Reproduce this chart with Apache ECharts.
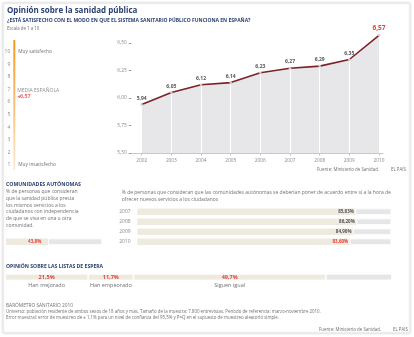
<!DOCTYPE html>
<html><head><meta charset="utf-8">
<script src="https://cdn.jsdelivr.net/npm/echarts@6/dist/echarts.min.js"></script>
<style>html,body{margin:0;padding:0;background:#fff}#c{width:414px;height:337px}</style>
</head><body><div id="c"></div>
<script>
// ---- data ----
const years = [2002, 2003, 2004, 2005, 2006, 2007, 2008, 2009, 2010];
const satisfaction = [5.94, 6.05, 6.12, 6.14, 6.23, 6.27, 6.29, 6.35, 6.57];
const yTicks = [5.5, 5.75, 6.0, 6.25, 6.5];
const spainMean = 6.57;
const sameServicesPct = [43.8];
const agreeYears = ['2007', '2008', '2009', '2010'];
const agreePct = [85.83, 86.20, 84.90, 83.60];
const waitLabels = ['Han mejorado', 'Han empeorado', 'Siguen igual'];
const waitPct = [21.5, 11.7, 49.7];

const F = "'Open Sans', 'DejaVu Sans', sans-serif";
const NAVY = '#2c4170', RED = '#e8413b', GRAYT = '#707070';
const BEIGE = '#efeadf', BGRAY = '#e6e6e8';
const comma = (v, d) => v.toFixed(d).replace('.', ',');

const linePts = years.map((y, i) => [y, satisfaction[i]]);
const waitRest = +(100 - waitPct.reduce((a, b) => a + b, 0)).toFixed(1);

function txt(x, y, text, size, color, weight, extra) {
  return Object.assign({ type: 'text', z: 10, style: Object.assign({
    x: x, y: y, text: text, fill: color, font: (weight || 'normal') + ' ' + size + 'px ' + F,
    align: 'left', verticalAlign: 'middle' }, extra || {}) });
}

const chart = echarts.init(document.getElementById('c'), null, { renderer: 'canvas' });
chart.setOption({
  animation: false,
  backgroundColor: '#fff',
  grid: [
    { left: 141.7, right: 35, top: 32, bottom: 184 },
    { left: 131, right: 31, top: 32, bottom: 184 },
    { left: 13.3, width: 2, top: 51.5, height: 113.5 },
    { left: 6, width: 96.3, top: 238.4, height: 6.6 },
    { left: 137.3, width: 254, top: 206.7, height: 40 },
    { left: 5, width: 387, top: 273.8, height: 6.6 }
  ],
  xAxis: [
    { gridIndex: 0, type: 'value', min: 2002, max: 2010, interval: 1, z: 1.5,
      axisLine: { show: false },
      axisTick: { show: true, length: 2.5, lineStyle: { color: '#c4c4c4' } },
      axisLabel: { color: '#8a8a8a', fontSize: 4.8, fontFamily: F, margin: 5, formatter: v => String(v) },
      splitLine: { show: true, lineStyle: { color: '#ffffff', width: 1 } } },
    { gridIndex: 1, type: 'value', min: 0, max: 1, axisLine: { show: true, lineStyle: { color: '#c8c8c8', width: 1 } },
      axisTick: { show: false }, axisLabel: { show: false }, splitLine: { show: false } },
    { gridIndex: 2, type: 'value', min: 0, max: 1, show: false },
    { gridIndex: 3, type: 'value', min: 0, max: 100, show: false },
    { gridIndex: 4, type: 'value', min: 0, max: 100, show: false },
    { gridIndex: 5, type: 'value', min: 0, max: 100, show: false }
  ],
  yAxis: [
    { gridIndex: 0, type: 'value', min: 5.5, max: 6.6, interval: 0.25, offset: 10.5,
      axisLine: { show: false },
      axisTick: { show: true, length: 2.5, customValues: yTicks, lineStyle: { color: '#9a9a9a' } },
      axisLabel: { customValues: yTicks, color: '#8a8a8a', fontSize: 4.8, fontFamily: F, margin: 4.5,
        formatter: v => comma(v, 2) },
      splitLine: { show: false } },
    { gridIndex: 1, type: 'value', show: false },
    { gridIndex: 2, type: 'value', min: 1, max: 10, interval: 1, position: 'left',
      axisLine: { show: false }, axisTick: { show: false }, splitLine: { show: false },
      axisLabel: { color: '#8a8a8a', fontSize: 5, fontFamily: F, margin: 3 } },
    { gridIndex: 2, type: 'value', min: 1, max: 10, interval: 1, position: 'right',
      axisLine: { show: false }, axisTick: { show: false }, splitLine: { show: false },
      axisLabel: { color: GRAYT, fontSize: 4.8, fontFamily: F, margin: 3,
        formatter: v => v === 10 ? 'Muy satisfecho' : (v === 1 ? 'Muy insatisfecho' : '') } },
    { gridIndex: 3, type: 'category', data: [''], show: false },
    { gridIndex: 4, type: 'category', data: agreeYears, inverse: true,
      axisLine: { show: false }, axisTick: { show: false },
      axisLabel: { color: '#8a8a8a', fontSize: 5, fontFamily: F, margin: 6.6 } },
    { gridIndex: 5, type: 'category', data: [''], show: false }
  ],
  graphic: [
    { type: 'rect', z: -10, shape: { x: 3, y: 3, width: 407, height: 330 },
      style: { fill: '#fff', stroke: '#e2e2e2', lineWidth: 1, shadowBlur: 3, shadowColor: 'rgba(0,0,0,0.10)' } },
    { type: 'rect', z: 5, shape: { x: 13.3, y: 40, width: 2, height: 130 },
      style: { fill: new echarts.graphic.LinearGradient(0, 0, 0, 1, [
        { offset: 0, color: '#f39a1e' }, { offset: 0.4, color: '#f7b866' }, { offset: 1, color: '#fdecd6' }]) } },
    txt(7, 11, 'Opinión sobre la sanidad pública', 8, NAVY, 'bold'),
    txt(7, 21, '¿ESTÁ SATISFECHO CON EL MODO EN QUE EL SISTEMA SANITARIO PÚBLICO FUNCIONA EN ESPAÑA?', 5, NAVY, 'bold'),
    txt(7, 28.5, 'Escala de 1 a 10', 4.4, GRAYT),
    txt(317, 170, 'Fuente: Ministerio de Sanidad.', 4.4, GRAYT),
    txt(391, 170, 'EL PAÍS', 4.4, GRAYT),
    txt(6, 185, 'COMUNIDADES AUTÓNOMAS', 5.2, NAVY, 'bold'),
    txt(6, 192, '% de personas que consideran\nque la sanidad pública presta\nlos mismos servicios a los\nciudadanos con independencia\nde que se viva en una u otra\ncomunidad.', 5, GRAYT, 'normal',
      { verticalAlign: 'top', y: 188.6, lineHeight: 6.7 }),
    txt(121.7, 192.7, '% de personas que consideran que las comunidades autónomas se deberían poner de acuerdo entre sí a la hora de\nofrecer nuevos servicios a los ciudadanos', 5, GRAYT, 'normal',
      { verticalAlign: 'top', y: 189.4, lineHeight: 6.6 }),
    txt(6, 266.7, 'OPINIÓN SOBRE LAS LISTAS DE ESPERA', 5.1, NAVY, 'bold'),
    txt(6, 306, 'BARÓMETRO SANITARIO 2010', 4.8, GRAYT),
    txt(6, 312, 'Universo: población residente de ambos sexos de 18 años y más. Tamaño de la muestra: 7.800 entrevistas. Período de referencia: marzo-noviembre 2010.', 4.4, GRAYT),
    txt(6, 318, 'Error muestral: error de muestreo de ± 1,1% para un nivel de confianza del 95,5% y P=Q en el supuesto de muestreo aleatorio simple.', 4.4, GRAYT),
    txt(319, 329.3, 'Fuente: Ministerio de Sanidad.', 4.4, GRAYT),
    txt(393, 329.3, 'EL PAÍS', 4.4, GRAYT)
  ],
  series: [
    { type: 'line', xAxisIndex: 0, yAxisIndex: 0, data: linePts, z: 1, silent: true,
      symbol: 'none', lineStyle: { width: 0 }, areaStyle: { color: '#e7e7e9', opacity: 1 } },
    { type: 'line', xAxisIndex: 0, yAxisIndex: 0, z: 3, silent: true,
      data: linePts.map((p, i) => i === linePts.length - 1 ? { value: p,
        label: { color: RED, fontSize: 6.5, fontWeight: 'bold' } } : p),
      lineStyle: { color: '#7b2226', width: 1.6 },
      symbol: 'circle', symbolSize: 2.5, itemStyle: { color: '#d9c6c6', borderWidth: 0 },
      label: { show: true, position: 'top', distance: 2.5, fontSize: 5, fontWeight: 'bold',
        color: '#555', fontFamily: F, formatter: p => comma(p.value[1], 2) } },
    { type: 'scatter', xAxisIndex: 2, yAxisIndex: 2, data: [[0.5, spainMean]], symbolSize: 0, silent: true,
      label: { show: true, position: 'right', distance: 3, offset: [0, -1],
        formatter: p => '{a|MEDIA ESPAÑOLA}\n{b|◂' + comma(p.value[1], 2) + '}',
        rich: { a: { fontSize: 5, color: GRAYT, fontFamily: F, lineHeight: 6 },
                b: { fontSize: 5.3, color: RED, fontWeight: 'bold', fontFamily: F, lineHeight: 6 } } } },
    { type: 'bar', xAxisIndex: 3, yAxisIndex: 4, stack: 'l', data: sameServicesPct, barWidth: 6.6, silent: true,
      itemStyle: { color: BEIGE },
      label: { show: true, position: 'insideRight', distance: 7, color: RED, fontWeight: 'bold', fontSize: 4.5,
        fontFamily: F, formatter: p => comma(p.value, 1) + '%' } },
    { type: 'bar', xAxisIndex: 3, yAxisIndex: 4, stack: 'l', data: sameServicesPct.map(v => +(100 - v).toFixed(1)),
      barWidth: 6.6, silent: true, itemStyle: { color: BGRAY, borderColor: '#fff', borderWidth: 0.8 } },
    { type: 'bar', xAxisIndex: 4, yAxisIndex: 5, stack: 'r', barWidth: 6.5, silent: true,
      data: agreePct.map((v, i) => i === agreePct.length - 1 ? { value: v, label: { color: RED } } : v),
      itemStyle: { color: BEIGE },
      label: { show: true, position: 'insideRight', distance: 1.5, color: '#555', fontWeight: 'bold', fontSize: 4.5,
        fontFamily: F, formatter: p => comma(p.value, 2) + '%' } },
    { type: 'bar', xAxisIndex: 4, yAxisIndex: 5, stack: 'r', barWidth: 6.5, silent: true,
      data: agreePct.map(v => +(100 - v).toFixed(2)),
      itemStyle: { color: BGRAY, borderColor: '#fff', borderWidth: 0.8 } },
    ...waitPct.map((v, i) => ({
      type: 'bar', xAxisIndex: 5, yAxisIndex: 6, stack: 'b', barWidth: 6.6, silent: true, data: [v],
      itemStyle: { color: BEIGE, borderColor: '#fff', borderWidth: 0.8 },
      label: { show: true, position: 'inside', offset: [0, 4],
        formatter: p => '{v|' + comma(p.value, 1) + '%}\n{n|' + waitLabels[i] + '}',
        rich: { v: { fontSize: 5.5, fontWeight: 'bold', color: RED, fontFamily: F, lineHeight: 8 },
                n: { fontSize: 5.5, color: GRAYT, fontFamily: F, lineHeight: 8 } } }
    })),
    { type: 'bar', xAxisIndex: 5, yAxisIndex: 6, stack: 'b', barWidth: 6.6, silent: true, data: [waitRest],
      itemStyle: { color: BGRAY, borderColor: '#fff', borderWidth: 0.8 } }
  ]
});
</script></body></html>
